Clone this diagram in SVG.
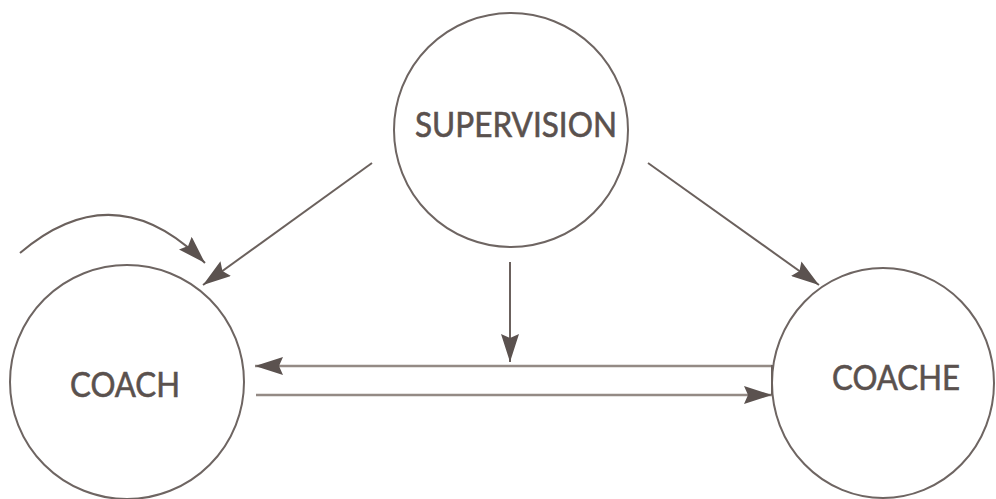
<svg xmlns="http://www.w3.org/2000/svg" width="996" height="499" viewBox="0 0 996 499">
<style>
.node{fill:#ffffff;stroke:#6e6562;stroke-width:2}
.lbl{font-family:Lato,"Liberation Sans",sans-serif;font-size:34px;fill:#5a514e;stroke:#5a514e;stroke-width:0.6;text-anchor:middle}
.conn{fill:none;stroke:#6b615d;stroke-width:2}
.hz{fill:none;stroke:#948a85;stroke-width:2.5}
</style>
<defs>
<marker id="ah" viewBox="0 0 28 18" refX="28" refY="9" markerWidth="28" markerHeight="18" markerUnits="userSpaceOnUse" orient="auto">
<path d="M0,0 L28,9 L0,18 L4,9 z" fill="#5b524f"/>
</marker>
</defs>
<rect width="996" height="499" fill="#ffffff"/>
<g id="supervision">
<circle class="node" cx="511" cy="130" r="117"/>
<text class="lbl" x="516" y="137" textLength="202" lengthAdjust="spacingAndGlyphs">SUPERVISION</text>
</g>
<g id="coach">
<circle class="node" cx="127" cy="382" r="117"/>
<text class="lbl" x="125" y="397" textLength="110" lengthAdjust="spacingAndGlyphs">COACH</text>
</g>
<g id="coache">
<ellipse class="node" cx="883" cy="383" rx="111" ry="115"/>
<text class="lbl" x="896" y="390" textLength="128" lengthAdjust="spacingAndGlyphs">COACHE</text>
</g>
<g id="connectors">
<path class="conn" d="M20,253 Q115,172 205,263" marker-end="url(#ah)"/>
<line class="conn" x1="372" y1="163" x2="203" y2="285" marker-end="url(#ah)"/>
<line class="conn" x1="648" y1="163" x2="819" y2="285" marker-end="url(#ah)"/>
<line class="conn" x1="510" y1="262" x2="510" y2="362" marker-end="url(#ah)"/>
<line class="hz" x1="772" y1="366" x2="255" y2="366" marker-end="url(#ah)"/>
<line class="hz" x1="256" y1="395" x2="772" y2="395" marker-end="url(#ah)"/>
<line class="conn" x1="772" y1="365" x2="772" y2="395"/>
</g>
</svg>
